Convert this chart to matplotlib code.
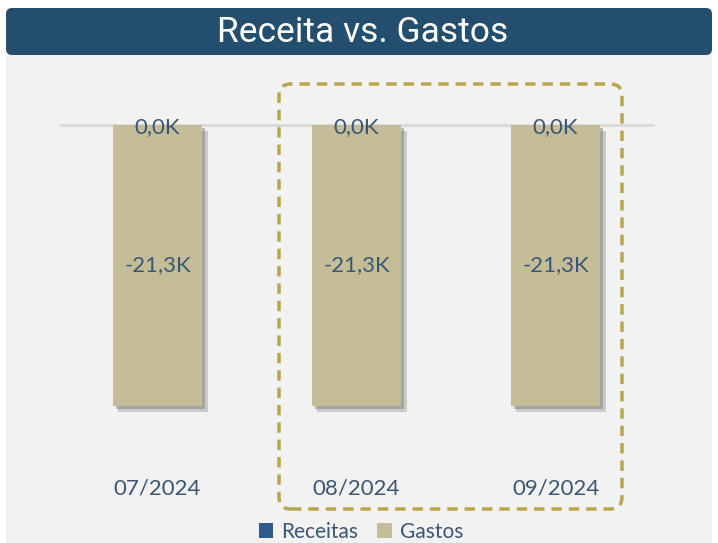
import matplotlib.pyplot as plt
from matplotlib.patches import FancyBboxPatch, Patch
import matplotlib.patheffects as pe

# ---------------- data ----------------
meses = ['07/2024', '08/2024', '09/2024']
receitas = [0, 0, 0]
gastos = [-21300, -21300, -21300]

# ---------------- colours ----------------
c_title = '#234E6E'
c_panel = '#F2F2F2'
c_receitas = '#2E5C8A'
c_gastos = '#C4BD97'
c_text = '#3B5673'
c_dash = '#B8A64C'

def fmt_k(v):
    return f'{v / 1000:.1f}K'.replace('.', ',')

W, H = 718, 543
fig = plt.figure(figsize=(W / 100, H / 100), dpi=100)
fig.patch.set_facecolor('white')
inch = fig.dpi_scale_trans

def px(x, y):
    # pixel (top-left origin) -> inches (bottom-left origin)
    return x / 100, (H - y) / 100

# background panel and title bar
x0, y0 = px(6, 560)
fig.patches.append(FancyBboxPatch((x0, y0), 706 / 100, (560 - 40) / 100,
                                  boxstyle='round,pad=0,rounding_size=0.06',
                                  transform=inch, facecolor=c_panel, edgecolor='none', zorder=-2))
x0, y0 = px(6, 55)
fig.patches.append(FancyBboxPatch((x0, y0), 706 / 100, 47 / 100,
                                  boxstyle='round,pad=0,rounding_size=0.06',
                                  transform=inch, facecolor=c_title, edgecolor='none', zorder=-1))
fig.text(363 / W, 1 - 33 / H, 'Receita vs. Gastos',
         ha='center', va='center', color='white', fontsize=25.5, family='Roboto')

# axes: x 60..655 px, y 100..440 px
ax = fig.add_axes([60 / W, 1 - 440 / H, 595 / W, 340 / H])
ax.set_zorder(3)
ax.set_facecolor('none')
for s in ax.spines.values():
    s.set_visible(False)

pos = list(range(len(meses)))
ax.bar(pos, receitas, width=0.45, color=c_receitas, zorder=3)
ax.bar(pos, gastos, width=0.45, color=c_gastos, zorder=3,
       path_effects=[pe.SimplePatchShadow(offset=(4, -4), shadow_rgbFace='#999999', alpha=0.45),
                     pe.SimplePatchShadow(offset=(2, -2), shadow_rgbFace='#808080', alpha=0.5),
                     pe.Normal()])
ax.axhline(0, color='#D9D9D9', lw=2, zorder=2)

ax.set_xlim(-0.49, 2.5)
ax.set_ylim(-23.88e3, 1.9e3)

for p, r, g in zip(pos, receitas, gastos):
    ax.text(p, r - 150, fmt_k(r), ha='center', va='center', color=c_text, fontsize=16, family='Lato', zorder=5)
    ax.text(p, g / 2, fmt_k(g), ha='center', va='center', color=c_text, fontsize=16, family='Lato', zorder=5)

ax.set_xticks(pos)
ax.set_xticklabels(meses, color=c_text, fontsize=16, family='Lato')
ax.tick_params(axis='x', length=0, pad=28)
ax.set_yticks([])

# dashed highlight box around the last two months
x0, y0 = px(279, 509)
fig.patches.append(FancyBboxPatch((x0, y0), (622 - 279) / 100, (509 - 84) / 100,
                                  boxstyle='round,pad=0,rounding_size=0.12',
                                  transform=inch, facecolor='none', edgecolor=c_dash,
                                  lw=2.5, linestyle=(0, (3, 2)), zorder=6))

handles = [Patch(facecolor=c_receitas), Patch(facecolor=c_gastos)]
fig.legend(handles, ['Receitas', 'Gastos'], loc='center', bbox_to_anchor=(361 / W, 1 - 532 / H),
           ncol=2, frameon=False, handlelength=0.7, handleheight=0.7, handletextpad=0.4,
           columnspacing=0.9, prop={'family': 'Lato', 'size': 15}, labelcolor=c_text)

fig.savefig('out.png', dpi=100, facecolor=fig.get_facecolor())
